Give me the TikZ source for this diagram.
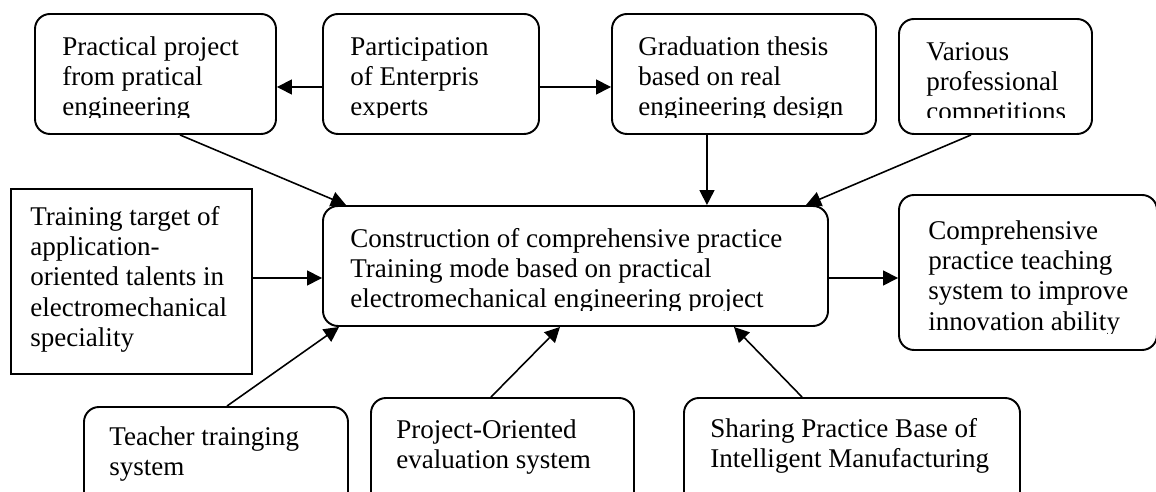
\documentclass[tikz,border=0pt]{standalone}
\usepackage{fontspec}
\setmainfont{Liberation Serif}
\usetikzlibrary{arrows.meta,fit}

\begin{document}
\begin{tikzpicture}[x=0.02cm,y=-0.02cm]
    \tikzset{
        rbox/.style={draw, rounded corners=0.3cm, line width=1.1pt, inner sep=0pt},
        sbox/.style={draw, line width=1.6pt, inner sep=0pt},
        txt/.style={anchor=north west, inner sep=0pt, align=left,
            font=\fontsize{15.4}{17.2}\selectfont},
        link/.style={-{Triangle[length=0.3cm,width=0.3cm]}, line width=0.9pt}
    }
    \clip (0,0) rectangle (1156,492);
    % boxes
    \node [rbox, fit={(35,14) (276,134)}] (prac) {};
    \node [rbox, fit={(323,14) (539,134)}] (expert) {};
    \node [rbox, fit={(612,14) (876,134)}] (thesis) {};
    \node [rbox, fit={(899,19) (1092,134)}] (compet) {};
    \node [sbox, fit={(11,189) (252,374)}] (target) {};
    \node [rbox, fit={(323,206) (828,326)}] (core) {};
    \node [rbox, fit={(899,195) (1157,350)}] (outc) {};
    \node [rbox, fit={(84,407) (348,530)}] (teacher) {};
    \node [rbox, fit={(371,398) (634,530)}] (proj) {};
    \node [rbox, fit={(684,398) (1020,530)}] (share) {};
    \coordinate (row1) at (0,87);
    \coordinate (row2) at (0,278);
    % texts
    \begin{scope}
        \clip (0,0) rectangle (1156,118);
        \node [txt] (pracT) at (62,34) {\strut Practical project\\from pratical\\engineering};
        \node [txt] (expertT) at (350,34) {\strut Participation\\of Enterpris\\experts};
        \node [txt] (thesisT) at (638,34) {\strut Graduation thesis\\based on real\\engineering design};
        \node [txt] (competT) at (926,39) {\strut Various\\professional\\competitions};
    \end{scope}
    \begin{scope}
        \clip (300,200) rectangle (850,311);
        \node [txt] (coreT) at (350,226) {\strut Construction of comprehensive practice\\Training mode based on practical\\electromechanical engineering project};
    \end{scope}
    \begin{scope}
        \clip (880,190) rectangle (1156,334);
        \node [txt] (outcT) at (928,218) {\strut Comprehensive\\practice teaching\\system to improve\\innovation ability};
    \end{scope}
    \node [txt] (targetT) at (30,204) {\strut Training target of\\application-\\oriented talents in\\electromechanical\\speciality};
    \node [txt] (teacherT) at (109,424) {\strut Teacher trainging\\system};
    \node [txt] (projT) at (396,417) {\strut Project-Oriented\\evaluation system};
    \node [txt] (shareT) at (710,416) {\strut Sharing Practice Base of\\Intelligent Manufacturing};
    % arrows
    \draw [link] (expert.west |- row1) -- (prac.east |- row1);
    \draw [link] (expert.east |- row1) -- (thesis.west |- row1);
    \draw [link] ([xshift=0.49cm]prac.south) -- ([xshift=0.48cm]core.north west);
    \draw [link] ([xshift=1.92cm]thesis.south west) -- ([xshift=7.7cm]core.north west);
    \draw [link] ([xshift=1.46cm]compet.south west) -- ([xshift=-0.46cm]core.north east);
    \draw [link] (target.east |- row2) -- (core.west |- row2);
    \draw [link] (core.east |- row2) -- (outc.west |- row2);
    \draw [link] ([xshift=2.88cm]teacher.north west) -- ([xshift=0.34cm]core.south west);
    \draw [link] ([xshift=2.42cm]proj.north west) -- ([xshift=4.76cm]core.south west);
    \draw [link] ([xshift=2.38cm]share.north west) -- ([xshift=8.24cm]core.south west);
\end{tikzpicture}
\end{document}
